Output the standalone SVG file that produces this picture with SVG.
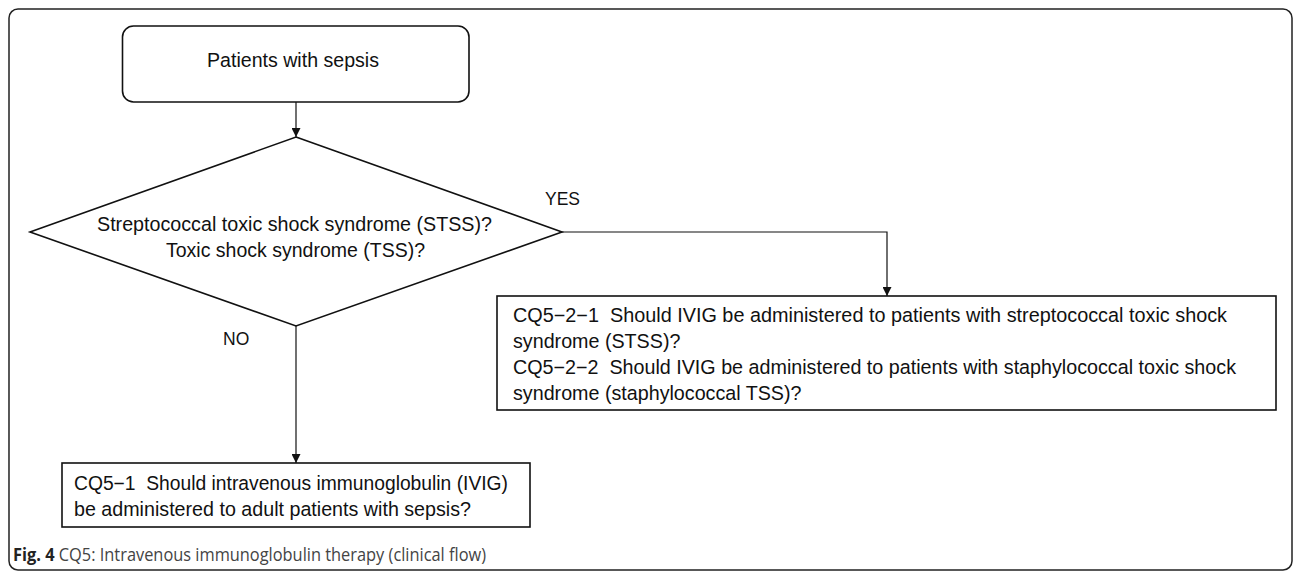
<svg xmlns="http://www.w3.org/2000/svg" width="1296" height="573" viewBox="0 0 1296 573">
  <style>
    .frame { fill: #fff; stroke: #222; stroke-width: 1.5; }
    .box { fill: #fff; stroke: #111; stroke-width: 1.6; }
    .conn { fill: none; stroke: #111; stroke-width: 1.2; }
    .t { font-family: "Liberation Sans", Arial, sans-serif; font-size: 19.7px; fill: #111; white-space: pre; }
    .lbl { font-family: "Liberation Sans", Arial, sans-serif; font-size: 17.5px; fill: #111; }
    .cap { font-family: "Open Sans", "Noto Sans", sans-serif; font-size: 17.5px; fill: #444; }
    .capb { font-weight: bold; fill: #222; }
  </style>
  <defs>
    <marker id="arr" viewBox="0 0 10 10" refX="10" refY="5" markerWidth="9" markerHeight="9" markerUnits="userSpaceOnUse" orient="auto">
      <path d="M0,0 L10,5 L0,10 z" fill="#111"/>
    </marker>
  </defs>

  <rect class="frame" x="9" y="9" width="1283" height="561" rx="9" ry="9"/>

  <g id="connectors">
    <line class="conn" x1="296" y1="102" x2="296" y2="137" marker-end="url(#arr)"/>
    <polyline class="conn" points="562,232 887,232 887,296" marker-end="url(#arr)"/>
    <line class="conn" x1="296" y1="326" x2="296" y2="463" marker-end="url(#arr)"/>
    <text class="lbl" x="545" y="205">YES</text>
    <text class="lbl" x="223" y="345">NO</text>
  </g>

  <g id="start">
    <rect class="box" x="122.5" y="26" width="346.5" height="76" rx="11" ry="11"/>
    <text class="t" x="207" y="67" textLength="172" lengthAdjust="spacingAndGlyphs">Patients with sepsis</text>
  </g>

  <g id="decision">
    <polygon class="box" points="296,137 562,232 296,326 30,232"/>
    <text class="t" x="97" y="231" textLength="395" lengthAdjust="spacingAndGlyphs">Streptococcal toxic shock syndrome (STSS)?</text>
    <text class="t" x="166" y="257" textLength="259" lengthAdjust="spacingAndGlyphs">Toxic shock syndrome (TSS)?</text>
  </g>

  <g id="cq52">
    <rect class="box" x="497" y="296" width="779" height="114"/>
    <text class="t" x="513" y="322" textLength="714" lengthAdjust="spacingAndGlyphs">CQ5−2−1  Should IVIG be administered to patients with streptococcal toxic shock</text>
    <text class="t" x="513" y="348">syndrome (STSS)?</text>
    <text class="t" x="513" y="374" textLength="723" lengthAdjust="spacingAndGlyphs">CQ5−2−2  Should IVIG be administered to patients with staphylococcal toxic shock</text>
    <text class="t" x="513" y="400">syndrome (staphylococcal TSS)?</text>
  </g>

  <g id="cq51">
    <rect class="box" x="62" y="463" width="468" height="64"/>
    <text class="t" x="74" y="490" textLength="434" lengthAdjust="spacingAndGlyphs">CQ5−1  Should intravenous immunoglobulin (IVIG)</text>
    <text class="t" x="74" y="516" textLength="397" lengthAdjust="spacingAndGlyphs">be administered to adult patients with sepsis?</text>
  </g>

  <g id="caption">
    <text class="cap" x="13" y="561" textLength="473" lengthAdjust="spacingAndGlyphs"><tspan class="capb">Fig. 4</tspan> CQ5: Intravenous immunoglobulin therapy (clinical flow)</text>
  </g>
</svg>
